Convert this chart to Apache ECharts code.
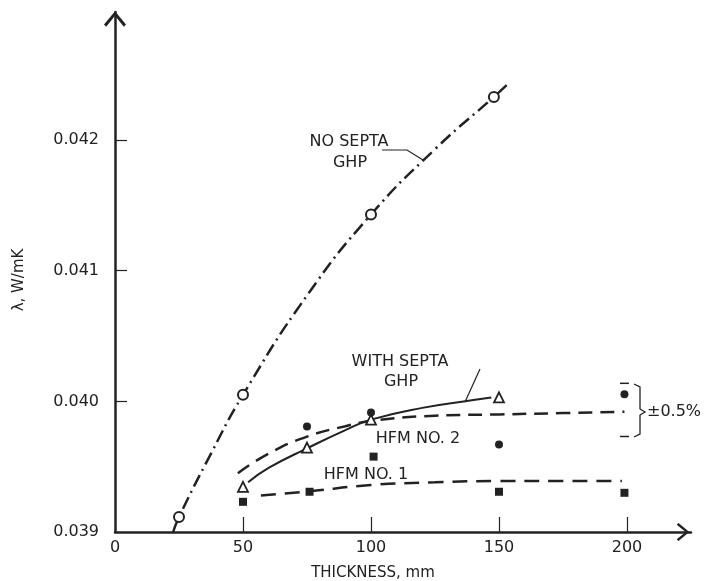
<!DOCTYPE html>
<html>
<head>
<meta charset="utf-8">
<script src="https://cdn.jsdelivr.net/npm/echarts@6/dist/echarts.min.js"></script>
<style>
html,body{margin:0;padding:0;background:#fff;}
#c{width:708px;height:581px;}
</style>
</head>
<body>
<div id="c"></div>
<script>
// ---- data (thickness in mm, lambda in W/mK) ----
var xTickLabels = [0, 50, 100, 150, 200];
var yTickLabels = [0.039, 0.040, 0.041, 0.042];

var noSeptaPts = [[25, 0.039115], [50, 0.04005], [100, 0.04143], [148, 0.04233]];
var noSeptaCurve = [[22.7, 0.0390], [25, 0.039115], [37.5, 0.03960], [50, 0.04005], [75, 0.04081], [100, 0.04143], [125, 0.04193], [148, 0.04233], [153, 0.04242]];

var withSeptaPts = [[50, 0.039346], [75, 0.039646], [100, 0.039860], [150, 0.040031]];
var withSeptaCurve = [[52, 0.03938], [60, 0.03949], [75, 0.03964], [90, 0.03978], [100, 0.03986], [120, 0.03995], [140, 0.04001], [147, 0.04003]];

var hfm2Pts = [[75, 0.039808], [100, 0.039915], [150, 0.039669], [199, 0.040054]];
var hfm2Curve = [[48, 0.03945], [60, 0.03960], [75, 0.03973], [90, 0.03981], [100, 0.03985], [125, 0.03989], [150, 0.03990], [175, 0.03991], [199, 0.03992]];

var hfm1Pts = [[50, 0.039231], [76, 0.039308], [101, 0.039577], [150, 0.039308], [199, 0.039300]];
var hfm1Curve = [[57, 0.03928], [75, 0.03931], [100, 0.03936], [125, 0.03938], [150, 0.03939], [175, 0.03939], [198, 0.03939]];

var errBar = [[199, 0.040138], [199, 0.039731]];

// ---- chart ----
var FONT = '"DejaVu Sans", sans-serif';
var INK = '#222222';
var chevron = 'path://M0,0 L10,12 L8,14 L0,4 L-8,14 L-10,12 Z';

function txt(x, y, s, align, size, rot) {
  return {type: 'text', x: x, y: y, z: 10, rotation: rot || 0,
    style: {text: s, font: (size || 16) + 'px ' + FONT, fill: INK, align: align || 'center', verticalAlign: 'middle'}};
}

var chart = echarts.init(document.getElementById('c'));
var option = {
  backgroundColor: '#ffffff',
  animation: false,
  grid: {left: 115, right: 17, top: 12, bottom: 49, containLabel: false, outerBoundsMode: 'none'},
  xAxis: {
    type: 'value', min: 0, max: 225,
    axisLine: {show: true, lineStyle: {color: INK, width: 2.5}, symbol: ['none', chevron], symbolSize: [18, 16], symbolOffset: [0, -8]},
    axisTick: {show: true, inside: true, length: 15, lineStyle: {color: INK, width: 1.2}, customValues: [50, 100, 150, 200]},
    axisLabel: {show: true, color: INK, fontFamily: FONT, fontSize: 16, margin: 8, customValues: xTickLabels},
    splitLine: {show: false}
  },
  yAxis: {
    type: 'value', min: 0.039, max: 0.04298,
    axisLine: {show: true, lineStyle: {color: INK, width: 2.5}, symbol: ['none', chevron], symbolSize: [22, 16], symbolOffset: [0, -7]},
    axisTick: {show: true, inside: true, length: 12, lineStyle: {color: INK, width: 1.2}, customValues: [0.040, 0.041, 0.042]},
    axisLabel: {show: true, color: INK, fontFamily: FONT, fontSize: 16, margin: 16, customValues: yTickLabels,
      formatter: function (v) { return v.toFixed(3); }},
    splitLine: {show: false}
  },
  series: [
    {type: 'line', data: noSeptaCurve, smooth: true, symbol: 'none', z: 2,
      lineStyle: {color: INK, width: 2.5, type: [13, 5, 2, 5]}},
    {type: 'scatter', data: noSeptaPts, symbol: 'circle', symbolSize: 10, z: 5,
      itemStyle: {color: '#ffffff', borderColor: INK, borderWidth: 2, opacity: 1}},
    {type: 'line', data: withSeptaCurve, smooth: true, symbol: 'none', z: 2,
      lineStyle: {color: INK, width: 2}},
    {type: 'scatter', data: withSeptaPts, symbol: 'triangle', symbolSize: 10, z: 5,
      itemStyle: {color: '#ffffff', borderColor: INK, borderWidth: 1.8, opacity: 1}},
    {type: 'line', data: hfm2Curve, smooth: true, symbol: 'none', z: 2,
      lineStyle: {color: INK, width: 2.5, type: [14, 8]}},
    {type: 'scatter', data: hfm2Pts, symbol: 'circle', symbolSize: 8, z: 5,
      itemStyle: {color: INK, opacity: 1}},
    {type: 'line', data: hfm1Curve, smooth: true, symbol: 'none', z: 2,
      lineStyle: {color: INK, width: 2.5, type: [15, 9]}},
    {type: 'scatter', data: hfm1Pts, symbol: 'rect', symbolSize: 8, z: 5,
      itemStyle: {color: INK, opacity: 1}},
    {type: 'scatter', data: errBar, symbol: 'rect', symbolSize: [9, 1.5], z: 5,
      itemStyle: {color: INK, opacity: 1}}
  ],
  graphic: [
    txt(349, 142, 'NO SEPTA'),
    txt(350, 163, 'GHP'),
    {type: 'polyline', shape: {points: [[382, 150], [407, 150], [423, 160]]}, style: {stroke: INK, lineWidth: 1.2, fill: null}},
    txt(400, 362, 'WITH SEPTA'),
    txt(401, 382, 'GHP'),
    {type: 'line', shape: {x1: 480, y1: 369, x2: 465, y2: 402}, style: {stroke: INK, lineWidth: 1.2}},
    txt(418, 439, 'HFM NO. 2'),
    txt(366, 475, 'HFM NO. 1'),
    {type: 'polyline', shape: {points: [[634, 384], [640, 387], [640, 409], [645, 412], [640, 415], [640, 434], [634, 437]]}, style: {stroke: INK, lineWidth: 1.3, fill: null}},
    txt(647, 412, '±0.5%', 'left'),
    txt(373, 573, 'THICKNESS, mm', 'center', 15),
    txt(19, 280, 'λ, W/mK', 'center', 15, Math.PI / 2)
  ]
};
chart.setOption(option);
</script>
</body>
</html>
